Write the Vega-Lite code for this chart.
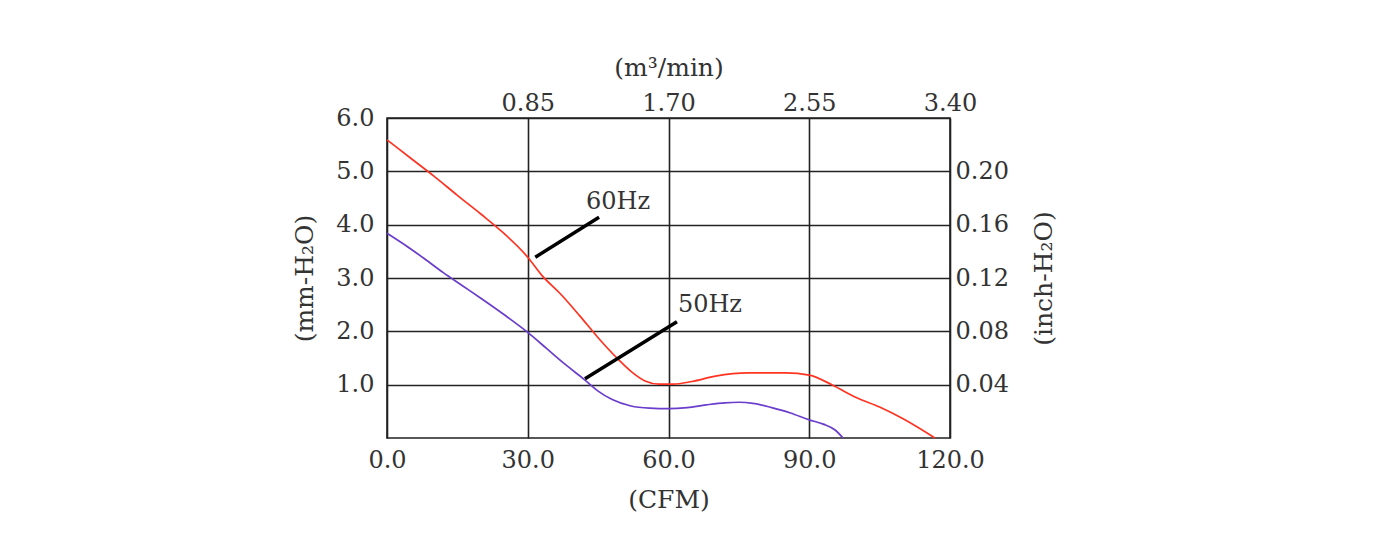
{
  "$schema": "https://vega.github.io/schema/vega-lite/v6.json",
  "width": 563,
  "height": 320,
  "autosize": "none",
  "padding": {"left": 387, "top": 118, "right": 430, "bottom": 111},
  "background": "white",
  "config": {
    "view": {"stroke": "#222", "strokeWidth": 1.6},
    "axis": {
      "domain": false,
      "ticks": false,
      "labelFont": "DejaVu Serif",
      "labelFontSize": 24,
      "labelColor": "#333",
      "titleFont": "DejaVu Serif",
      "titleFontSize": 25,
      "titleFontWeight": "normal",
      "titleColor": "#333",
      "gridColor": "#222",
      "gridWidth": 1.6,
      "gridOpacity": 1
    }
  },
  "datasets": {
    "curves": [
      {"series": "60Hz", "cfm": 0, "mm": 5.59},
      {"series": "60Hz", "cfm": 5, "mm": 5.25},
      {"series": "60Hz", "cfm": 10, "mm": 4.91},
      {"series": "60Hz", "cfm": 15, "mm": 4.55},
      {"series": "60Hz", "cfm": 20, "mm": 4.2},
      {"series": "60Hz", "cfm": 25, "mm": 3.83},
      {"series": "60Hz", "cfm": 30, "mm": 3.39},
      {"series": "60Hz", "cfm": 33, "mm": 3.05},
      {"series": "60Hz", "cfm": 37, "mm": 2.7},
      {"series": "60Hz", "cfm": 41, "mm": 2.3},
      {"series": "60Hz", "cfm": 45, "mm": 1.88},
      {"series": "60Hz", "cfm": 49, "mm": 1.5},
      {"series": "60Hz", "cfm": 52, "mm": 1.25},
      {"series": "60Hz", "cfm": 55, "mm": 1.07},
      {"series": "60Hz", "cfm": 58, "mm": 1.01},
      {"series": "60Hz", "cfm": 61, "mm": 1.01},
      {"series": "60Hz", "cfm": 65, "mm": 1.06},
      {"series": "60Hz", "cfm": 70, "mm": 1.16},
      {"series": "60Hz", "cfm": 77, "mm": 1.22},
      {"series": "60Hz", "cfm": 85, "mm": 1.22},
      {"series": "60Hz", "cfm": 90, "mm": 1.18},
      {"series": "60Hz", "cfm": 95, "mm": 0.99},
      {"series": "60Hz", "cfm": 100, "mm": 0.76},
      {"series": "60Hz", "cfm": 105, "mm": 0.58},
      {"series": "60Hz", "cfm": 110, "mm": 0.36},
      {"series": "60Hz", "cfm": 116.8, "mm": 0.0},
      {"series": "50Hz", "cfm": 0, "mm": 3.84},
      {"series": "50Hz", "cfm": 4, "mm": 3.61},
      {"series": "50Hz", "cfm": 8, "mm": 3.36},
      {"series": "50Hz", "cfm": 12, "mm": 3.1},
      {"series": "50Hz", "cfm": 16, "mm": 2.86},
      {"series": "50Hz", "cfm": 20, "mm": 2.62},
      {"series": "50Hz", "cfm": 25, "mm": 2.31},
      {"series": "50Hz", "cfm": 30, "mm": 1.98},
      {"series": "50Hz", "cfm": 34, "mm": 1.68},
      {"series": "50Hz", "cfm": 38, "mm": 1.38},
      {"series": "50Hz", "cfm": 42, "mm": 1.1},
      {"series": "50Hz", "cfm": 45, "mm": 0.88},
      {"series": "50Hz", "cfm": 48, "mm": 0.72},
      {"series": "50Hz", "cfm": 52, "mm": 0.6},
      {"series": "50Hz", "cfm": 56, "mm": 0.56},
      {"series": "50Hz", "cfm": 60, "mm": 0.55},
      {"series": "50Hz", "cfm": 64, "mm": 0.57},
      {"series": "50Hz", "cfm": 68, "mm": 0.62},
      {"series": "50Hz", "cfm": 72, "mm": 0.66},
      {"series": "50Hz", "cfm": 75, "mm": 0.67},
      {"series": "50Hz", "cfm": 78, "mm": 0.65},
      {"series": "50Hz", "cfm": 82, "mm": 0.57},
      {"series": "50Hz", "cfm": 86, "mm": 0.47},
      {"series": "50Hz", "cfm": 90, "mm": 0.34},
      {"series": "50Hz", "cfm": 93, "mm": 0.26},
      {"series": "50Hz", "cfm": 95.5, "mm": 0.15},
      {"series": "50Hz", "cfm": 97.2, "mm": 0.0}
    ],
    "pointers": [
      {"label": "60Hz", "cfm": 31.6, "mm": 3.39, "cfm2": 45.2, "mm2": 4.14},
      {"label": "50Hz", "cfm": 42.2, "mm": 1.11, "cfm2": 61.8, "mm2": 2.18}
    ],
    "labels": [
      {"label": "60Hz", "cfm": 42.4, "mm": 4.43},
      {"label": "50Hz", "cfm": 62.0, "mm": 2.49}
    ]
  },
  "layer": [
    {
      "data": {"name": "curves"},
      "mark": {"type": "line", "interpolate": "monotone", "strokeWidth": 1.7},
      "encoding": {
        "x": {
          "field": "cfm", "type": "quantitative",
          "scale": {"domain": [0, 120], "nice": false, "zero": false},
          "axis": {
            "orient": "bottom", "values": [0, 30, 60, 90, 120], "format": ".1f",
            "grid": true, "labelPadding": 10, "title": "(CFM)", "titlePadding": 15,
            "labelFlush": false
          }
        },
        "y": {
          "field": "mm", "type": "quantitative",
          "scale": {"domain": [0, 6], "nice": false, "zero": false},
          "axis": {
            "orient": "left", "values": [1, 2, 3, 4, 5, 6], "format": ".1f",
            "grid": true, "labelPadding": 13, "title": "(mm-H₂O)", "titlePadding": 18,
            "labelFlush": false
          }
        },
        "color": {
          "field": "series", "type": "nominal",
          "scale": {"domain": ["60Hz", "50Hz"], "range": ["#ff3322", "#6a3dcc"]},
          "legend": null
        }
      }
    },
    {
      "data": {"name": "pointers"},
      "mark": {"type": "rule", "strokeWidth": 3.5, "color": "#000"},
      "encoding": {
        "x": {
          "field": "cfm", "type": "quantitative",
          "scale": {"domain": [0, 120], "nice": false, "zero": false},
          "axis": {
            "orient": "top", "values": [30, 60, 90, 120],
            "labelExpr": "format(datum.value / 30 * 0.85, '.2f')",
            "grid": false, "labelPadding": 3, "title": "(m³/min)", "titlePadding": 11,
            "labelFlush": false
          }
        },
        "x2": {"field": "cfm2"},
        "y": {
          "field": "mm", "type": "quantitative",
          "scale": {"domain": [0, 6], "nice": false, "zero": false},
          "axis": {
            "orient": "right", "values": [1, 2, 3, 4, 5],
            "labelExpr": "format(datum.value * 0.04, '.2f')",
            "grid": false, "labelPadding": 5, "title": "(inch-H₂O)", "titlePadding": 48,
            "titleAngle": -90, "labelFlush": false
          }
        },
        "y2": {"field": "mm2"}
      }
    },
    {
      "data": {"name": "labels"},
      "mark": {"type": "text", "font": "DejaVu Serif", "fontSize": 24, "align": "left", "baseline": "middle", "color": "#333"},
      "encoding": {
        "x": {"field": "cfm", "type": "quantitative", "scale": {"domain": [0, 120], "nice": false, "zero": false}, "axis": null},
        "y": {"field": "mm", "type": "quantitative", "scale": {"domain": [0, 6], "nice": false, "zero": false}, "axis": null},
        "text": {"field": "label"}
      }
    }
  ],
  "resolve": {"axis": {"x": "independent", "y": "independent"}}
}
